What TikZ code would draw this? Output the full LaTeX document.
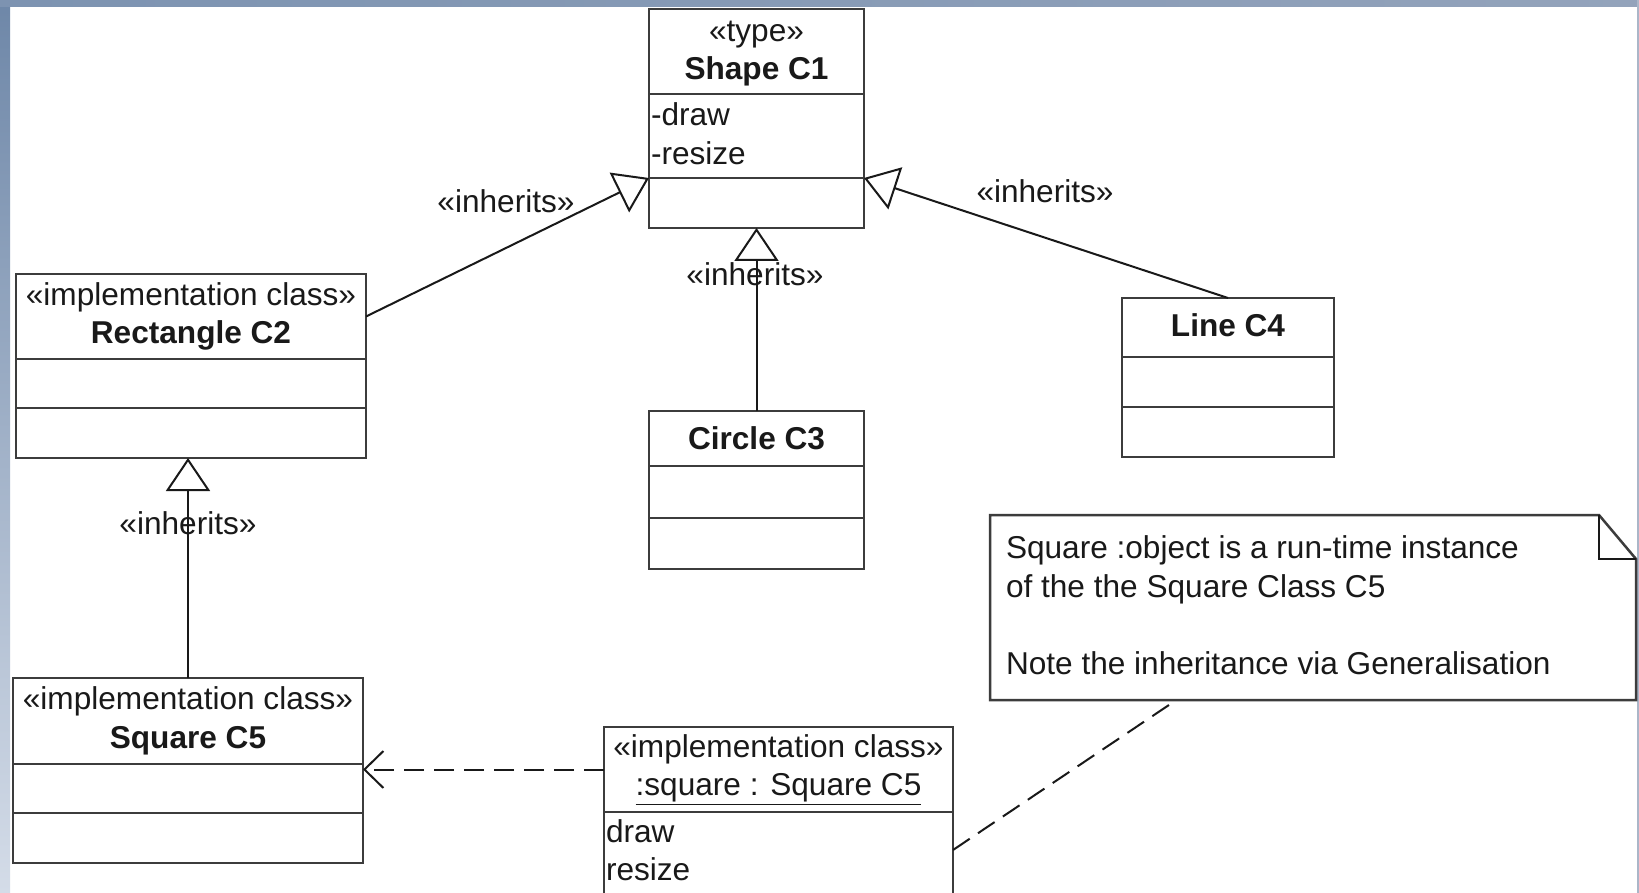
\documentclass[tikz,border=0pt]{standalone}
\usepackage{fontspec}
\setmainfont{Liberation Sans}
\usetikzlibrary{arrows.meta,calc}

\definecolor{edge}{RGB}{60,60,60}
\definecolor{ink}{RGB}{25,25,25}
\definecolor{frameDark}{RGB}{110,135,168}
\definecolor{frameLight}{RGB}{212,220,232}
\definecolor{frameMid}{RGB}{224,229,236}
\definecolor{frameRight}{RGB}{147,163,187}
\definecolor{frameEdge}{RGB}{170,182,200}

\begin{document}
\begin{tikzpicture}[x=1pt,y=-1pt,
  txt/.style={font=\fontsize{31.6}{38.5}\selectfont, text=ink, inner sep=0pt, outer sep=0pt},
  comp/.style={draw=edge, line width=2.5pt, fill=white, inner sep=0pt, outer sep=0pt, anchor=north west},
  link/.style={draw=ink, line width=2pt},
  inh/.style={link, -{Triangle[open, length=33pt, width=44pt, line width=2pt]}},
  dep/.style={link, dash pattern=on 20pt off 10pt, -{Straight Barb[length=19pt, width=37pt, line width=2pt]}},
  notelink/.style={link, dash pattern=on 20pt off 10pt},
]
\useasboundingbox (0,0) rectangle (1639,893);
\fill[white] (0,0) rectangle (1639,893);

% window frame
\shade[top color=frameDark, bottom color=frameLight] (0,0) rectangle (10,893);
\shade[left color=frameDark!90, middle color=frameMid, right color=frameRight] (0,0) rectangle (1639,7);
\fill[frameEdge] (1637,0) rectangle (1639,893);

% Shape C1
\node[comp, minimum width=215pt, minimum height=85pt] (c1h) at (649,9) {};
\node[comp, minimum width=215pt, minimum height=84pt] (c1a) at (649,94) {};
\node[comp, minimum width=215pt, minimum height=50pt] (c1o) at (649,178) {};
\node[txt, align=center] (c1n) at ($(c1h.center)+(0,2)$) {«type»\\\textbf{Shape C1}};
\node[txt, anchor=west] (c1d) at (651,114) {-draw};
\node[txt, anchor=west] (c1r) at (651,153) {-resize};

% Rectangle C2
\node[comp, minimum width=350pt, minimum height=85pt] (c2h) at (16,274) {};
\node[comp, minimum width=350pt, minimum height=49pt] (c2a) at (16,359) {};
\node[comp, minimum width=350pt, minimum height=50pt] (c2o) at (16,408) {};
\node[txt, align=center] (c2n) at (c2h.center) {«implementation class»\\\textbf{Rectangle C2}};

% Circle C3
\node[comp, minimum width=215pt, minimum height=55pt] (c3h) at (649,411) {};
\node[comp, minimum width=215pt, minimum height=52pt] (c3a) at (649,466) {};
\node[comp, minimum width=215pt, minimum height=51pt] (c3o) at (649,518) {};
\node[txt] (c3n) at (c3h.center) {\textbf{Circle C3}};

% Line C4
\node[comp, minimum width=212pt, minimum height=59pt] (c4h) at (1122,298) {};
\node[comp, minimum width=212pt, minimum height=50pt] (c4a) at (1122,357) {};
\node[comp, minimum width=212pt, minimum height=50pt] (c4o) at (1122,407) {};
\node[txt] (c4n) at ($(c4h.center)+(0,-2)$) {\textbf{Line C4}};

% Square C5
\node[comp, minimum width=350pt, minimum height=86pt] (c5h) at (13,678) {};
\node[comp, minimum width=350pt, minimum height=49pt] (c5a) at (13,764) {};
\node[comp, minimum width=350pt, minimum height=50pt] (c5o) at (13,813) {};
\node[txt, align=center] (c5n) at (c5h.center) {«implementation class»\\\textbf{Square C5}};

% :square object
\node[comp, minimum width=349pt, minimum height=85pt] (sqh) at (604,727) {};
\node[comp, minimum width=349pt, minimum height=95pt] (sqa) at (604,812) {};
\node[txt, align=center] (sqn) at (sqh.center) {«implementation class»\\\underline{:square : Square C5}};
\node[txt, anchor=west] (sqd) at (606,831) {draw};
\node[txt, anchor=west] (sqr) at (606,869) {resize};

% note
\node[inner sep=0pt, outer sep=0pt, anchor=north west, minimum width=646pt, minimum height=185pt] (note) at (990,515) {};
\draw[draw=edge, line width=2.5pt, fill=white]
  (note.north west) -- ($(note.north east)+(-37,0)$) -- ($(note.north east)+(0,44)$)
  -- (note.south east) -- (note.south west) -- cycle;
\draw[link] ($(note.north east)+(-37,0)$) -- ($(note.north east)+(-37,44)$) -- ($(note.north east)+(0,44)$);
\node[txt, anchor=west] (nt1) at (1006,550) {Square :object is a run-time instance};
\node[txt, anchor=west] (nt2) at (1006,589) {of the the Square Class C5};
\node[txt, anchor=west] (nt3) at (1006,663) {Note the inheritance via Generalisation};

% generalisations
\draw[inh] (c2h.east) -- (c1a.south west);
\draw[inh] (c4h.north) -- (c1a.south east);
\draw[inh] (c3h.north) -- (c1o.south);
\draw[inh] (c5h.north) -- (c5h.north |- c2o.south);

% dependency and note anchor
\draw[dep] (sqh.west) -- (sqh.west -| c5a.east);
\coordinate (notefoot) at ($(note.south west)!0.277!(note.south east)+(0,5)$);
\coordinate (sqside) at ($(sqa.north east)!0.4!(sqa.south east)$);
\draw[notelink] (notefoot) -- (sqside);

% labels
\node[txt] (l1) at (506,201) {«inherits»};
\node[txt] (l2) at (1045,191) {«inherits»};
\node[txt] (l3) at (755,274) {«inherits»};
\node[txt] (l4) at (188,523) {«inherits»};
\end{tikzpicture}
\end{document}
